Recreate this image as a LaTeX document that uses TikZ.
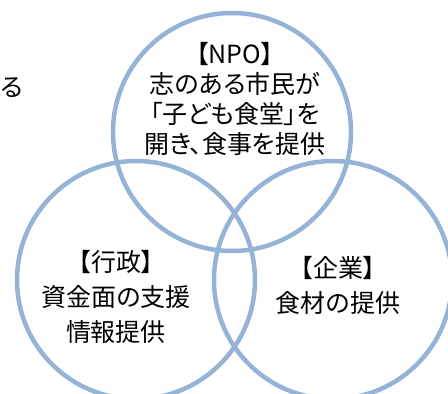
\documentclass[tikz,border=0pt]{standalone}
\usepackage{fontspec}
\newfontfamily\cjk[RawFeature=+palt]{Noto Sans CJK JP}
\definecolor{ringblue}{RGB}{149,179,215}
\tikzset{
  ring/.style={circle, draw=ringblue, line width=4.5pt, minimum size=238pt, inner sep=0pt},
  label/.style={align=center, inner sep=0pt, font=\cjk\fontsize{25}{30}\selectfont, text=black},
  lowlabel/.style={label, font=\cjk\fontsize{25}{35}\selectfont}
}
\begin{document}
\begin{tikzpicture}[x=1pt,y=-1pt]
\useasboundingbox (0,0) rectangle (448,394);
\begin{scope}
\clip (0,0) rectangle (448,394);
\node[ring] (npo) at (232,132) {};
\node[ring] (gyosei) at (136,280) {};
\node[ring] (kigyo) at (333,280) {};
\node[label] (ru) at (12,88) {る};
\node[label] (npotext) at (235,99) {【NPO】\\志のある市民が\\「子ども食堂」を\\開き、食事を提供};
\node[lowlabel] (gyoseitext) at (116,297) {【行政】\\資金面の支援\\情報提供};
\node[lowlabel] (kigyotext) at (338,285) {【企業】\\食材の提供};
\end{scope}
\end{tikzpicture}
\end{document}
